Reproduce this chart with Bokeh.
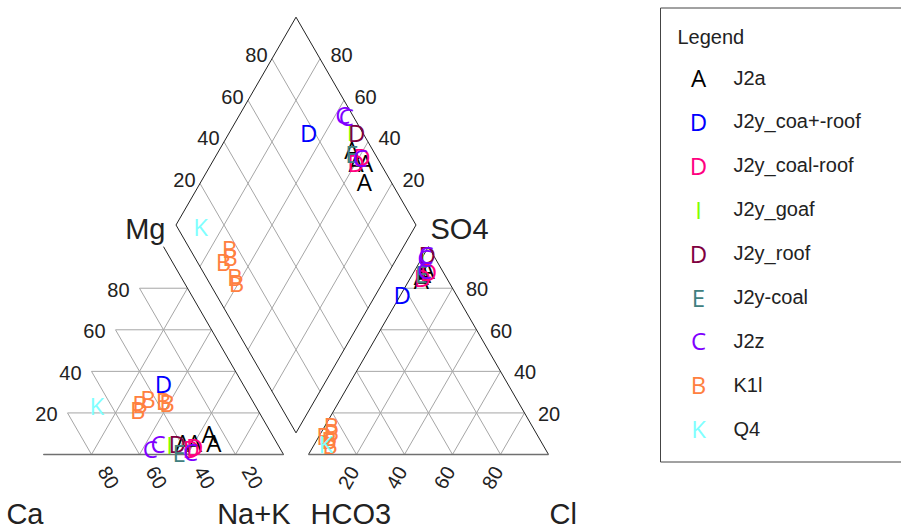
import numpy as np
from bokeh.plotting import figure
from bokeh.models import Range1d, ColumnDataSource
from bokeh.core.properties import value
from bokeh.embed import file_html
from bokeh.resources import INLINE

# ---------------- data ----------------
groups = ["J2a", "J2y_coa+-roof", "J2y_coal-roof", "J2y_goaf", "J2y_roof",
          "J2y-coal", "J2z", "K1l", "Q4"]
letters = ["A", "D", "D", "I", "D", "E", "C", "B", "K"]
colors = ["#000000", "#0000FF", "#FF0080", "#80FF00", "#800040",
          "#408080", "#8000FF", "#FF8040", "#80FFFF"]

# samples (meq %): group, Ca, Mg, SO4, Cl   (Na+K = 100-Ca-Mg, HCO3 = 100-SO4-Cl)
sample_group = ["J2a", "J2a", "J2a", "J2a",
                "J2y_coa+-roof",
                "J2y_coal-roof", "J2y_coal-roof",
                "J2y_goaf",
                "J2y_roof",
                "J2y-coal",
                "J2z", "J2z", "J2z",
                "K1l", "K1l", "K1l", "K1l", "K1l",
                "Q4"]
ca = [39, 34, 26, 26,
      33,
      37, 35,
      45,
      41.5,
      43,
      54, 49.5, 38,
      50, 47.5, 43, 37, 36,
      66]
mg = [6, 6, 10, 6,
      34,
      3, 4,
      5,
      5.5,
      1,
      3, 5.5, 1.5,
      21.5, 24.5, 27, 26, 25,
      23.5]
so4 = [87, 86, 89, 84,
       77,
       85, 88,
       95,
       96,
       87,
       95, 96, 89,
       9, 14, 11, 7, 5,
       5.5]
cl = [4.5, 4, 5, 5,
      0.5,
      5, 6,
      0,
      1.5,
      3.5,
      1, 1, 4,
      2, 2.5, 4, 5, 6.5,
      4.5]

ticks = [20, 40, 60, 80]
tick_labels = ["20", "40", "60", "80"]

# ---------------- geometry ----------------
PX = 2.4                 # pixels per percent unit
H = np.sqrt(3) / 2
G = 25 / PX              # gap between triangles


def img_x(X):
    return (X - 43) / PX


def img_y(Y):
    return (454 - Y) / PX


def cat_xy(c, m):
    c = np.asarray(c, float); m = np.asarray(m, float)
    nak = 100 - c - m
    return nak + m / 2, m * H


def an_xy(s, c):
    s = np.asarray(s, float); c = np.asarray(c, float)
    return 100 + G + c + s / 2, s * H


def dia_xy(camg, so4cl):
    camg = np.asarray(camg, float); so4cl = np.asarray(so4cl, float)
    return 100 + G / 2 + 0.5 * (so4cl - camg), G * H + H * (camg + so4cl)


W, HGT = 901, 531
p = figure(width=W, height=HGT, output_backend="svg", toolbar_location=None,
           x_axis_type=None, y_axis_type=None, min_border=0,
           x_range=Range1d(img_x(0), img_x(W)),
           y_range=Range1d(img_y(HGT), img_y(0)))
p.outline_line_color = None
p.background_fill_color = "white"
p.border_fill_color = "white"

GRID = "#a6a6a6"
OUT = "#222222"
LABEL_FONT = value("Liberation Sans")

# ---------------- grids ----------------
gx0, gy0, gx1, gy1 = [], [], [], []
for v in ticks:
    # cation triangle
    for a, b in [((100 - v, v), (0, v)),          # Mg = v
                 ((v, 100 - v), (v, 0)),          # Ca = v
                 ((100 - v, 0), (0, 100 - v))]:   # NaK = v
        x0, y0 = cat_xy(*a); x1, y1 = cat_xy(*b)
        gx0.append(x0); gy0.append(y0); gx1.append(x1); gy1.append(y1)
    # anion triangle (SO4, Cl)
    for a, b in [((v, 0), (v, 100 - v)),          # SO4 = v
                 ((0, v), (100 - v, v)),          # Cl = v
                 ((100 - v, 0), (0, 100 - v))]:   # HCO3 = v
        x0, y0 = an_xy(*a); x1, y1 = an_xy(*b)
        gx0.append(x0); gy0.append(y0); gx1.append(x1); gy1.append(y1)
    # diamond
    for a, b in [((v, 0), (v, 100)), ((0, v), (100, v))]:
        x0, y0 = dia_xy(*a); x1, y1 = dia_xy(*b)
        gx0.append(x0); gy0.append(y0); gx1.append(x1); gy1.append(y1)
p.segment(gx0, gy0, gx1, gy1, line_color=GRID, line_width=1)

# ---------------- outlines ----------------
cx, cy = cat_xy([100, 0, 0], [0, 0, 100])
p.line(cx, cy, line_color=OUT, line_width=1)
ax, ay = an_xy([0, 100, 0], [0, 0, 100])
p.line(ax, ay, line_color=OUT, line_width=1)
# base lines
bx0, by0 = cat_xy([100], [0]); bx1, by1 = cat_xy([0], [0])
bx2, by2 = an_xy([0], [0]); bx3, by3 = an_xy([0], [100])
p.segment([bx0[0], bx2[0]], [by0[0], by2[0]], [bx1[0], bx3[0]], [by1[0], by3[0]],
          line_color="#707070", line_width=1.5)
dx, dy = dia_xy([0, 0, 100, 100, 0], [0, 100, 100, 0, 0])
p.line(dx, dy, line_color=OUT, line_width=1)

# ---------------- tick labels ----------------
tv = np.array(ticks, float)
TS = "20px"
TC = "#222222"
# cation left edge (Mg)
x, y = cat_xy(100 - tv, tv)
p.text(x - 10 / PX, y - 1.5 / PX, text=tick_labels, text_align="right", text_baseline="middle",
       text_font=LABEL_FONT, text_font_size=TS, text_color=TC)
# cation base (Ca)
x, y = cat_xy(tv, 0 * tv)
p.text(x + 17 / PX, y - 23 / PX, text=tick_labels, angle=-np.pi / 3, text_align="center",
       text_baseline="middle", text_font=LABEL_FONT, text_font_size=TS, text_color=TC)
# anion base (Cl)
x, y = an_xy(0 * tv, tv)
p.text(x - 8 / PX, y - 23 / PX, text=tick_labels, angle=np.pi / 3, text_align="center",
       text_baseline="middle", text_font=LABEL_FONT, text_font_size=TS, text_color=TC)
# anion right edge (SO4)
x, y = an_xy(tv, 100 - tv)
p.text(x + 13.5 / PX, y - 1 / PX, text=tick_labels, text_align="left", text_baseline="middle",
       text_font=LABEL_FONT, text_font_size=TS, text_color=TC)
# diamond upper-left (SO4+Cl)
x, y = dia_xy(0 * tv + 100, tv)
p.text(x - 4.5 / PX, y + 3.5 / PX, text=tick_labels, text_align="right", text_baseline="middle",
       text_font=LABEL_FONT, text_font_size=TS, text_color=TC)
# diamond upper-right (Ca+Mg)
x, y = dia_xy(tv, 0 * tv + 100)
p.text(x + 10.5 / PX, y + 3.5 / PX, text=tick_labels, text_align="left", text_baseline="middle",
       text_font=LABEL_FONT, text_font_size=TS, text_color=TC)

# ---------------- axis names ----------------
AS = "29px"
names = [("Mg", 165, 228, "right"), ("SO4", 430, 228, "left"),
         ("Ca", 43, 513, "right"), ("Na+K", 290, 513, "right"),
         ("HCO3", 310, 513, "left"), ("Cl", 549, 513, "left")]
for t, X, Y, al in names:
    p.text([img_x(X)], [img_y(Y)], text=[t], text_align=al, text_baseline="middle",
           text_font=LABEL_FONT, text_font_size=AS, text_color=TC)

# ---------------- samples ----------------
ca_a = np.array(ca, float); mg_a = np.array(mg, float)
so4_a = np.array(so4, float); cl_a = np.array(cl, float)
sg = np.array(sample_group)
MS = "24px"
MF = value("Open Sans")
for g, let, col in zip(groups, letters, colors):
    idx = np.where(sg == g)[0]
    c, m, s, l = ca_a[idx], mg_a[idx], so4_a[idx], cl_a[idx]
    x1, y1 = cat_xy(c, m)
    x2, y2 = an_xy(s, l)
    x3, y3 = dia_xy(c + m, s + l)
    xs = np.concatenate([x1, x2, x3]); ys = np.concatenate([y1, y2, y3])
    src = ColumnDataSource(dict(x=xs, y=ys, t=[let] * len(xs)))
    p.text("x", "y", text="t", source=src, text_align="center", text_baseline="middle",
           text_font=MF, text_font_size=MS, text_color=col)

# ---------------- legend ----------------
p.quad(left=[img_x(660)], right=[img_x(910)], top=[img_y(7.5)], bottom=[img_y(461.5)],
       fill_color=None, line_color="#444444", line_width=1)
p.text([img_x(677)], [img_y(36)], text=["Legend"], text_align="left", text_baseline="middle",
       text_font=LABEL_FONT, text_font_size="20px", text_color=TC)
rows = np.arange(len(groups))
ry = img_y(77 + rows * 43.9)
p.text(np.full(len(groups), img_x(698)), ry, text=letters, text_align="center",
       text_baseline="middle", text_font=MF, text_font_size=MS, text_color=colors)
p.text(np.full(len(groups), img_x(733)), ry, text=groups, text_align="left",
       text_baseline="middle", text_font=LABEL_FONT, text_font_size="20px", text_color=TC)

open("out.html", "w").write(file_html(p, INLINE))
